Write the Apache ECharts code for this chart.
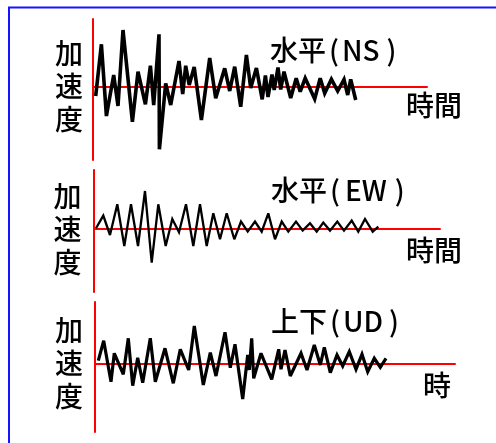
<!DOCTYPE html>
<html>
<head>
<meta charset="utf-8">
<script src="https://cdn.jsdelivr.net/npm/echarts@6/dist/echarts.min.js"></script>
<style>html,body{margin:0;padding:0;background:#fff;}#c{width:496px;height:443px;}</style>
</head>
<body>
<div id="c"></div>
<script>
// Panel titles and axis labels
const panelTitles = ['水平', '水平', '上下'];
const panelCodes = ['NS', 'EW', 'UD'];
const yLabel = '加速度';
const xLabels = ['時間', '時間', '時'];

// NS (horizontal) trace: time, acceleration
const nsTime = [0.27,0.84,1.34,2.07,2.5,3.0,3.94,4.5,5.24,5.74,6.07,6.6,6.64,7.27,7.77,8.6,8.97,9.27,9.62,10.12,10.84,11.67,12.27,13.17,13.67,14.17,14.77,15.34,15.77,16.34,16.92,17.24,17.5,17.9,18.12,18.5,18.77,19.1,19.77,20.32,20.72,21.22,22.17,22.72,23.17,23.84,24.47,25.1,25.47,25.77,26.27];
const nsAccel = [-0.93,4.24,-2.93,1.17,-1.93,5.67,-3.5,1.5,-1.76,2.1,-1.83,5.24,-6.26,0.34,-1.83,2.57,-0.73,2.1,0.17,1.97,-3.33,2.87,-1.16,1.84,-0.43,2.0,-2.0,3.17,-0.13,1.87,-1.26,1.12,-1.03,1.22,-0.33,1.92,-0.28,1.5,-1.13,0.84,-0.5,0.84,-1.23,0.84,-0.66,0.74,-0.43,0.72,-0.83,0.74,-1.33];

// EW (horizontal) trace
const ewTime = [0.2,0.93,1.6,2.33,3.03,3.7,4.4,5.1,5.77,6.43,7.17,7.83,8.5,9.2,9.93,10.6,11.27,11.93,12.6,13.27,14.03,14.7,15.37,16.1,16.77,17.43,18.1,18.77,19.43,20.2,20.87,21.6,22.27,22.93,23.6,24.33,25.0,25.77,26.43,27.1,27.87,28.43];
const ewAccel = [0,1.27,-0.67,2.4,-1.77,2.4,-1.77,3.73,-3.43,2.4,-1.77,0.93,-0.4,2.4,-1.77,2.4,-1.77,1.5,-1.1,1.5,-1.1,0.67,-0.33,0.67,-0.33,1.5,-1.1,0.67,-0.33,0.67,-0.23,0.5,-0.33,0.57,-0.23,0.67,-0.23,0.77,-0.33,0.93,-0.33,0.17];

// UD (vertical) trace
const udTime = [0.33,0.87,1.6,1.93,2.83,3.33,3.77,4.27,4.77,5.53,6.03,7.0,7.83,8.53,9.37,9.93,10.83,11.53,12.1,13.0,13.53,14.0,14.77,15.27,15.43,15.67,15.87,16.6,17.67,18.37,18.6,19.0,19.53,20.6,21.2,21.93,22.53,22.93,23.53,24.2,24.77,25.43,26.1,26.7,27.27,27.93,28.53,29.1];
const udAccel = [0.26,2.26,-1.84,1.0,-1.1,2.5,-2.24,0.56,-1.94,2.5,-1.84,1.5,-2.0,1.4,-0.67,3.73,-2.17,1.06,-1.27,3.1,-0.44,1.9,-3.57,0.83,-0.67,2.5,-1.5,1.0,-1.6,1.4,-0.6,1.33,-1.27,1.0,-0.67,1.83,-0.17,1.6,-0.94,0.83,-0.27,1.16,-0.6,0.9,-0.84,0.5,-0.4,0.5];

const zip = (t, a) => t.map((v, i) => [v, a[i]]);

const grids = [
  {left: 93, top: 19, width: 334, height: 141},
  {left: 94, top: 170, width: 346, height: 122},
  {left: 95, top: 302, width: 360, height: 130}
];
const xMax = [33.4, 34.6, 36.0];
const yMin = [-7.33, -6.37, -6.87];
const yMax = [6.77, 5.83, 6.13];
const lineW = [3.6, 2.3, 3.2];
const traces = [zip(nsTime, nsAccel), zip(ewTime, ewAccel), zip(udTime, udAccel)];

const redLine = {show: true, onZero: true, lineStyle: {color: '#ff0000', width: 2}};
const xAxes = grids.map((g, i) => ({
  type: 'value', gridIndex: i, min: 0, max: xMax[i],
  axisLine: redLine, axisTick: {show: false}, axisLabel: {show: false}, splitLine: {show: false}
}));
const yAxes = grids.map((g, i) => ({
  type: 'value', gridIndex: i, min: yMin[i], max: yMax[i],
  axisLine: redLine, axisTick: {show: false}, axisLabel: {show: false}, splitLine: {show: false}
}));
const series = traces.map((d, i) => ({
  type: 'line', xAxisIndex: i, yAxisIndex: i, data: d, symbol: 'none',
  lineStyle: {color: '#000', width: lineW[i], join: 'miter', miterLimit: 3}, animation: false, z: 1
}));

const cjk = '"Noto Sans CJK JP", sans-serif';
const fnt = (f) => '500 28px ' + f;
const yLabelPos = [[69, 86], [67.5, 229.5], [69, 363.5]];
const titlePos = [[270, 50.5], [271, 190], [271, 321]];
const xLabelPos = [[406, 105], [406, 250], [423, 385]];
const padR = [[3, 7], [5, 8], [3, 6]];

const graphic = [
  {type: 'rect', shape: {x: 9, y: 7.5, width: 700, height: 700}, style: {fill: 'none', stroke: '#1414ff', lineWidth: 2}, silent: true}
];
for (let i = 0; i < 3; i++) {
  graphic.push({
    type: 'text', x: yLabelPos[i][0], y: yLabelPos[i][1],
    style: {text: yLabel.split('').join('\n'), font: fnt(cjk), fill: '#000',
      align: 'center', verticalAlign: 'middle', lineHeight: 33}
  });
  graphic.push({
    type: 'text', x: titlePos[i][0], y: titlePos[i][1],
    style: {
      text: '{c|' + panelTitles[i] + '}{p|(}{l|' + panelCodes[i] + '}{q|)}',
      verticalAlign: 'middle', align: 'left',
      rich: {
        c: {font: fnt(cjk), fill: '#000'},
        p: {font: fnt(cjk), fill: '#000', padding: [0, padR[i][0], 0, 3]},
        l: {font: fnt(cjk), fill: '#000'},
        q: {font: fnt(cjk), fill: '#000', padding: [0, 0, 0, padR[i][1]]}
      }
    }
  });
  graphic.push({
    type: 'text', x: xLabelPos[i][0], y: xLabelPos[i][1],
    style: {text: xLabels[i], font: fnt(cjk), fill: '#000', align: 'left', verticalAlign: 'middle'}
  });
}

const chart = echarts.init(document.getElementById('c'));
chart.setOption({
  backgroundColor: '#ffffff',
  animation: false,
  grid: grids,
  xAxis: xAxes,
  yAxis: yAxes,
  series: series,
  graphic: graphic
});
</script>
</body>
</html>
